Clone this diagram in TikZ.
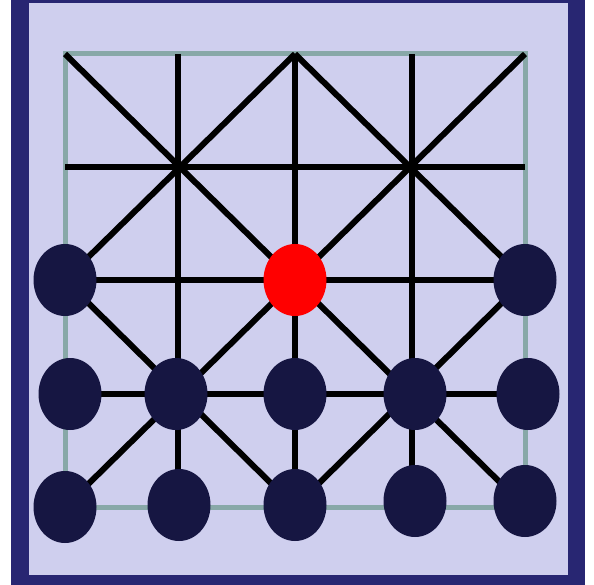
\documentclass[tikz,border=0pt]{standalone}
\definecolor{framec}{HTML}{282672}
\definecolor{bgc}{HTML}{CFCFEE}
\definecolor{gridc}{HTML}{88A8A8}
\definecolor{piecec}{HTML}{161642}
\tikzset{
  piece/.style={ellipse, fill=piecec, minimum width=63pt, minimum height=72pt, inner sep=0pt},
  redpiece/.style={piece, fill=red},
  bline/.style={black, line width=6pt},
}
\usetikzlibrary{shapes.geometric}
\begin{document}
\begin{tikzpicture}[x=1pt, y=-1pt]
\useasboundingbox (0,0) rectangle (594,585);
\fill[white] (0,0) rectangle (594,585);
\fill[framec] (11,0) rectangle (585,585);
\fill[bgc] (29,3) rectangle (568,575);
% grid points
\foreach \c/\x in {0/65,1/178,2/295,3/412,4/525}{
  \foreach \r/\y in {0/54,1/167,2/280,3/394,4/507}{
    \coordinate (g\r\c) at (\x,\y);
  }
}
\draw[gridc, line width=5pt] (g00) rectangle (g44);
% horizontals
\draw[bline] (g10) -- (g14);
\draw[bline] (g20) -- (g24);
\draw[bline] (g30) -- (g34);
% verticals
\draw[bline] (g01) -- (g41);
\draw[bline] (g02) -- (g42);
\draw[bline] (g03) -- (g43);
% diagonals
\draw[bline] (g00) -- (g44);
\draw[bline] (g04) -- (g40);
\draw[bline] (g02) -- (g20);
\draw[bline] (g02) -- (g24);
\draw[bline] (g20) -- (g42);
\draw[bline] (g24) -- (g42);
% pieces
\node[piece] (p20) at (65,280) {};
\node[redpiece] (p22) at (295,280) {};
\node[piece] (p24) at (525,280) {};
\node[piece] (p30) at (70,394) {};
\node[piece] (p31) at (176,394) {};
\node[piece] (p32) at (295,394) {};
\node[piece] (p33) at (415,394) {};
\node[piece] (p34) at (528,394) {};
\node[piece] (p40) at (65,507) {};
\node[piece] (p41) at (179,505) {};
\node[piece] (p42) at (295,505) {};
\node[piece] (p43) at (415,501) {};
\node[piece] (p44) at (525,501) {};
\end{tikzpicture}
\end{document}
